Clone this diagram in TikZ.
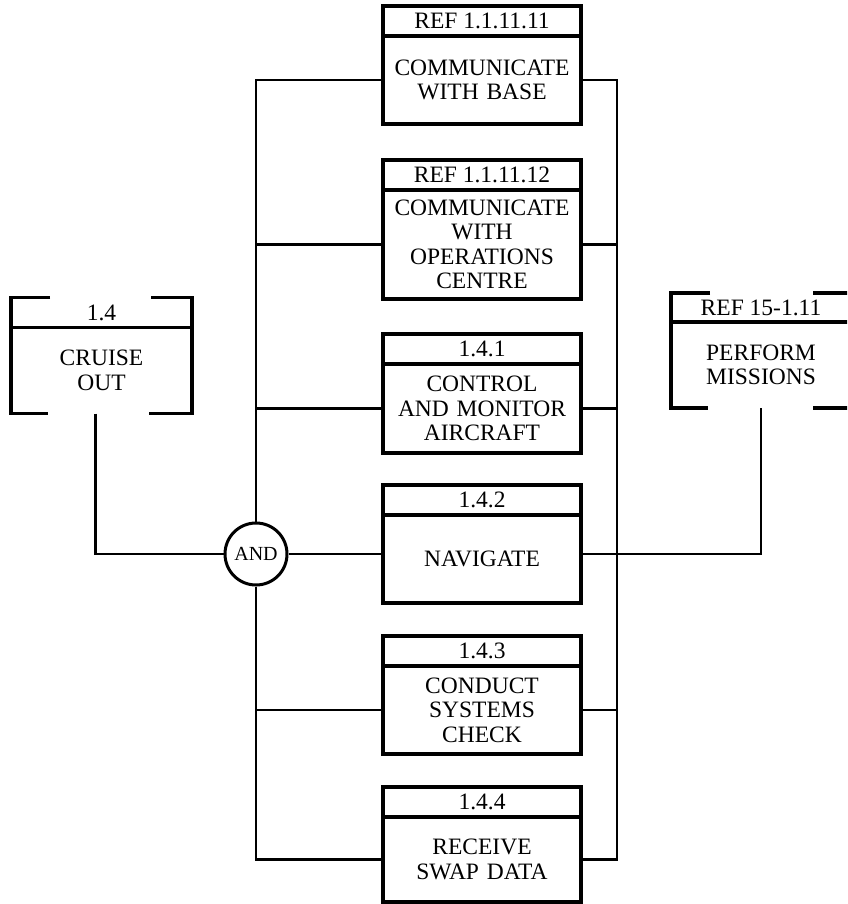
\documentclass[tikz,border=0pt]{standalone}
\usepackage{fontspec}
\setmainfont{Liberation Serif}
\usetikzlibrary{positioning,calc}

\begin{document}
\begin{tikzpicture}[
  x=1pt, y=-1pt,
  font=\fontsize{23.5}{24.5}\selectfont,
  hdr/.style={draw, line width=3.2pt, outer sep=0pt, minimum width=198pt, minimum height=30pt, inner sep=0pt},
  fn/.style={draw, line width=3.2pt, outer sep=0pt, minimum width=198pt, minimum height=88pt,
             text width=194pt, align=center, inner sep=0pt},
  exthdr/.style={outer sep=0pt, minimum height=30pt, inner sep=0pt},
  ext/.style={outer sep=0pt, minimum height=86pt, text width=170pt, align=center, inner sep=0pt},
  bracket/.style={line width=3.4pt},
  wire/.style={line width=2.2pt},
  gate/.style={draw, circle, line width=3pt, minimum size=62pt, inner sep=0pt, fill=white,
               font=\fontsize{20}{21}\selectfont}
]
\useasboundingbox (0,0) rectangle (847,904);
\clip (0,0) rectangle (847,904);

% functions in the middle column
\node[hdr] (baseref) at (482,21) {REF 1.1.11.11};
\node[fn, below=0pt of baseref] (base) {COMMUNICATE\\WITH BASE};
\node[hdr] (opsref) at (482,175) {REF 1.1.11.12};
\node[fn, below=0pt of opsref, minimum height=109pt] (ops) {COMMUNICATE\\WITH\\OPERATIONS\\CENTRE};
\node[hdr] (ctrlref) at (482,349) {1.4.1};
\node[fn, below=0pt of ctrlref, minimum height=89pt] (ctrl) {CONTROL\\AND MONITOR\\AIRCRAFT};
\node[hdr] (navref) at (482,500) {1.4.2};
\node[fn, below=0pt of navref] (nav) {NAVIGATE};
\node[hdr] (chkref) at (482,651) {1.4.3};
\node[fn, below=0pt of chkref] (chk) {CONDUCT\\SYSTEMS\\CHECK};
\node[hdr] (swapref) at (482,802) {1.4.4};
\node[fn, below=0pt of swapref, minimum height=85pt] (swap) {RECEIVE\\SWAP DATA};

% external functions, open brackets
\node[exthdr, minimum width=181pt] (cruisehdr) at (101.5,312.5) {1.4};
\node[ext, minimum width=181pt, below=0pt of cruisehdr] (cruise) {CRUISE\\OUT};
\draw[bracket] ($(cruisehdr.north west)+(39,0)$) -| (cruise.south west) -- ++(37,0);
\draw[bracket] ($(cruisehdr.north east)+(-41,0)$) -| (cruise.south east) -- ++(-43,0);
\draw[bracket] (cruisehdr.south west) -- (cruisehdr.south east);

\node[exthdr, minimum width=180pt, minimum height=29pt] (performhdr) at (761,307.5) {REF 15-1.11};
\node[ext, minimum width=180pt, below=0pt of performhdr] (perform) {PERFORM\\MISSIONS};
\draw[bracket] ($(performhdr.north west)+(39,0)$) -| (perform.south west) -- ++(37,0);
\draw[bracket] ($(performhdr.north east)+(-38,0)$) -| (perform.south east) -- ++(-38,0);
\draw[bracket] (performhdr.south west) -- (performhdr.south east);

% AND junction and wiring
\node[gate] (and) at (256,554) {AND};
\coordinate (join) at (617,554);

\draw[wire] ([xshift=-6pt]cruise.south) |- (and.west);
\draw[wire] (and) |- (base.west);
\draw[wire] (and) |- (ops.west);
\draw[wire] (and) |- (ctrl.west);
\draw[wire] (and) -- (nav.west |- and);
\draw[wire] (and) |- (chk.west);
\draw[wire] (and) |- (swap.west);

\draw[wire] (base.east) -| (join);
\draw[wire] (ops.east) -| (join);
\draw[wire] (ctrl.east) -| (join);
\draw[wire] (chk.east) -| (join);
\draw[wire] (swap.east) -| (join);
\draw[wire] (nav.east |- join) -- (join) -| (perform.south);
\end{tikzpicture}
\end{document}
